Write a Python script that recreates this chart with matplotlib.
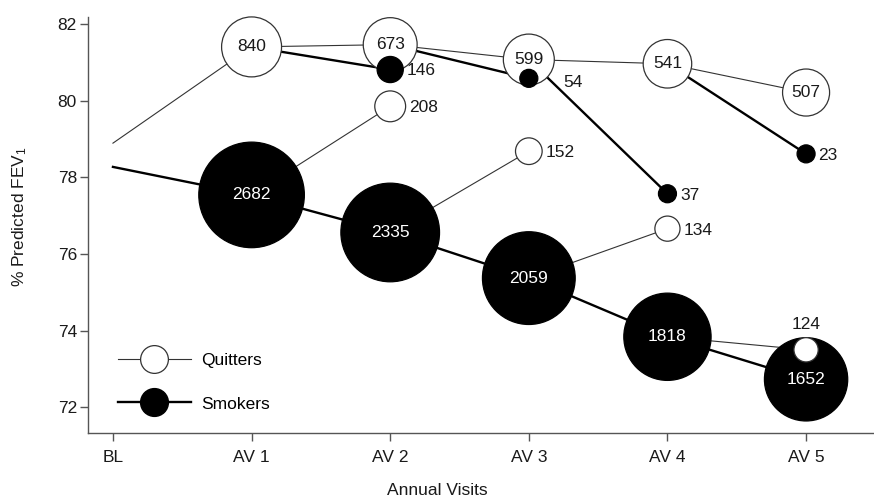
import numpy as np
import matplotlib
matplotlib.use("Agg")
import matplotlib.pyplot as plt
from matplotlib.lines import Line2D

plt.rcParams["font.family"] = ["Liberation Sans", "DejaVu Sans"]
plt.rcParams["mathtext.fontset"] = "custom"
plt.rcParams["mathtext.rm"] = "Liberation Sans"
plt.rcParams["mathtext.it"] = "Liberation Sans"

# data
visits = ["BL", "AV 1", "AV 2", "AV 3", "AV 4", "AV 5"]
quit_fev = [78.89, 81.40, 81.46, 81.07, 80.96, 80.21]
quit_n = [None, 840, 673, 599, 541, 507]
smok_fev = [78.27, 77.54, 76.56, 75.37, 73.84, 72.73]
smok_n = [None, 2682, 2335, 2059, 1818, 1652]
# smokers who quit at the next visit (AV 2..AV 5)
newquit_fev = [79.85, 78.68, 76.66, 73.50]
newquit_n = [208, 152, 134, 124]
# quitters who relapsed at the next visit (AV 2..AV 5)
relapse_fev = [80.81, 80.58, 77.57, 78.61]
relapse_n = [146, 54, 37, 23]

DPI = 100
PX2PT = 72 / DPI
FS = 12.5
TXT = "#1a1a1a"


def rad_pt(n):
    # circle radius (points) grows with sqrt of the group size, small groups get a floor
    return max(np.sqrt(n) + 1, 9) * PX2PT


def msize(n):
    return (2 * rad_pt(n)) ** 2


fig = plt.figure(figsize=(8.74, 4.99), dpi=DPI)
ax = fig.add_axes([88 / 874, 1 - 433 / 499, (874 - 88) / 874, (433 - 17) / 499])

x = np.arange(len(visits))
THIN, THICK = 0.8, 1.7
gray = "#333333"

# main lines
ax.plot(x, quit_fev, color=gray, lw=THIN, zorder=1)
ax.plot(x, smok_fev, color="black", lw=THICK, zorder=1)

# branch lines
for i in range(4):
    ax.plot([x[i + 1], x[i + 2]], [smok_fev[i + 1], newquit_fev[i]], color=gray, lw=THIN, zorder=1)
    ax.plot([x[i + 1], x[i + 2]], [quit_fev[i + 1], relapse_fev[i]], color="black", lw=THICK, zorder=1)

# large circles
ax.scatter(x[1:], quit_fev[1:], s=[msize(n) for n in quit_n[1:]], facecolor="white",
           edgecolor=gray, linewidth=0.9, zorder=3, clip_on=False)
ax.scatter(x[1:], smok_fev[1:], s=[msize(n) for n in smok_n[1:]], facecolor="black",
           edgecolor="black", linewidth=0.9, zorder=3, clip_on=False)
for xi, yv, n in zip(x[1:], quit_fev[1:], quit_n[1:]):
    ax.text(xi, yv, str(n), ha="center", va="center", fontsize=FS, color=TXT, zorder=6)
for xi, yv, n in zip(x[1:], smok_fev[1:], smok_n[1:]):
    ax.text(xi, yv, str(n), ha="center", va="center", fontsize=FS, color="white", zorder=6)

# small circles
ax.scatter(x[2:], newquit_fev, s=[msize(n) for n in newquit_n], facecolor="white",
           edgecolor=gray, linewidth=0.9, zorder=5)
ax.scatter(x[2:], relapse_fev, s=[msize(n) for n in relapse_n], facecolor="black",
           edgecolor="black", linewidth=0.9, zorder=5)

for k, (xi, yv, n) in enumerate(zip(x[2:], newquit_fev, newquit_n)):
    if k == 3:
        ax.annotate(str(n), (xi, yv), xytext=(0, 13), textcoords="offset points",
                    ha="center", va="bottom", fontsize=FS, color=TXT)
    else:
        ax.annotate(str(n), (xi, yv), xytext=(rad_pt(n) + 2.5, -1), textcoords="offset points",
                    ha="left", va="center", fontsize=FS, color=TXT)
for k, (xi, yv, n) in enumerate(zip(x[2:], relapse_fev, relapse_n)):
    dx = 25 if k == 1 else rad_pt(n) + 2.5
    dy = -3 if k == 1 else -1
    ax.annotate(str(n), (xi, yv), xytext=(dx, dy), textcoords="offset points",
                ha="left", va="center", fontsize=FS, color=TXT)

ax.set_xlim(-0.18, 5.49)
ax.set_ylim(71.33, 82.18)
ax.set_xticks(x)
ax.set_xticklabels(visits)
ax.set_yticks([72, 74, 76, 78, 80, 82])
for side in ["top", "right"]:
    ax.spines[side].set_visible(False)
for side in ["left", "bottom"]:
    ax.spines[side].set_color("#555555")
    ax.spines[side].set_linewidth(1.0)
ax.tick_params(direction="out", length=6, width=1.0, color="#555555",
               labelsize=FS, labelcolor=TXT)
ax.tick_params(axis="x", pad=6)
ax.tick_params(axis="y", pad=2)

fig.text(20 / 874, 1 - 217 / 499, "% Predicted FEV$_1$", rotation=90, ha="center",
         va="center", fontsize=FS, color=TXT)
fig.text(0.5, 1 / 499, "Annual Visits", ha="center", va="bottom", fontsize=FS, color=TXT)

handles = [
    Line2D([], [], color=gray, lw=THIN, marker="o", markersize=20, markerfacecolor="white",
           markeredgecolor=gray, markeredgewidth=0.9),
    Line2D([], [], color="black", lw=THICK, marker="o", markersize=20, markerfacecolor="black",
           markeredgecolor="black"),
]
ax.legend(handles, ["Quitters", "Smokers"], loc="lower left", bbox_to_anchor=(0.018, 0.014),
          frameon=False, fontsize=FS, handlelength=4.2, labelspacing=1.65, handletextpad=0.6)

fig.savefig("out.png", dpi=DPI)
